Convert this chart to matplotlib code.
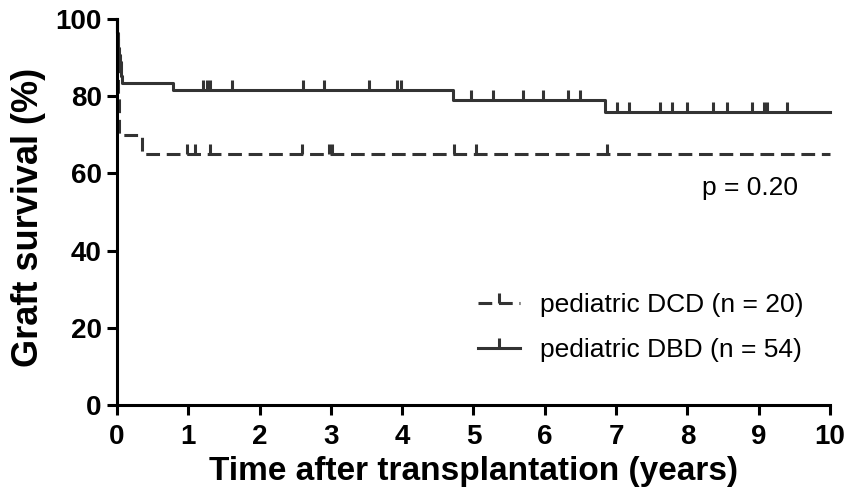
import numpy as np
import matplotlib
matplotlib.use('Agg')
import matplotlib.pyplot as plt
from matplotlib.lines import Line2D

# step curves (years, graft survival %)
dbd_times = [0, 0.003, 0.006, 0.01, 0.02, 0.03, 0.04, 0.05, 0.06, 0.07, 0.79, 4.71, 6.84]
dbd_surv = [100, 98.1, 96.3, 94.4, 92.6, 90.7, 88.9, 87.0, 85.2, 83.3, 81.5, 78.9, 76.0]
dbd_censor = [1.21, 1.26, 1.31, 1.62, 2.61, 2.90, 3.54, 3.93, 3.98, 4.97, 5.27, 5.70,
              5.97, 6.33, 6.49, 7.01, 7.18, 7.62, 7.78, 7.99, 8.36, 8.55, 8.90, 9.07,
              9.11, 9.39]

dcd_times = [0, 0.005, 0.01, 0.015, 0.02, 0.025, 0.03, 0.35]
dcd_surv = [100, 95, 90, 85, 80, 75, 70, 65]
dcd_censor = [0.98, 1.09, 1.30, 2.59, 2.97, 3.01, 4.72, 5.04, 6.87]

t_end = 10
labels = ['pediatric DCD (n = 20)', 'pediatric DBD (n = 54)']
p_text = 'p = 0.20'

col = '#333333'
lw = 2.2
font = 'Liberation Sans'


def step_at(times, surv, t):
    idx = np.searchsorted(times, t, side='right') - 1
    return np.asarray(surv)[idx]


plt.rcParams['font.family'] = [font, 'DejaVu Sans']

fig = plt.figure(figsize=(8.57, 4.95), dpi=100)
ax = fig.add_axes([0.1365, 0.1818, 0.832, 0.7798])

# DCD dashed
x = list(dcd_times) + [t_end]
y = list(dcd_surv) + [dcd_surv[-1]]
ax.step(x, y, where='post', color=col, lw=lw, dashes=(4.5, 2.2), clip_on=False)
ax.plot(dcd_censor, step_at(dcd_times, dcd_surv, dcd_censor), ls='none',
        marker=2, ms=7, mew=lw, color=col, clip_on=False)

# DBD solid
x = list(dbd_times) + [t_end]
y = list(dbd_surv) + [dbd_surv[-1]]
ax.step(x, y, where='post', color=col, lw=lw, clip_on=False)
ax.plot(dbd_censor, step_at(dbd_times, dbd_surv, dbd_censor), ls='none',
        marker=2, ms=7, mew=lw, color=col, clip_on=False)

ax.set_xlim(0, 10)
ax.set_ylim(0, 100)
ax.set_xticks(range(0, 11))
ax.set_yticks(range(0, 101, 20))
for s in ['top', 'right']:
    ax.spines[s].set_visible(False)
for s in ['left', 'bottom']:
    ax.spines[s].set_linewidth(lw)
ax.tick_params(direction='out', length=7, width=lw, color='black', labelsize=20)
ax.tick_params(axis='x', pad=7)
ax.tick_params(axis='y', pad=4)
for lab in ax.get_xticklabels() + ax.get_yticklabels():
    lab.set_fontweight('bold')

ax.set_xlabel('Time after transplantation (years)', weight='bold', size=24, labelpad=4)
ax.set_ylabel('Graft survival (%)', weight='bold', size=26)
ax.yaxis.set_label_coords(-0.1, 0.485)

ax.text(8.2, 56.2, p_text, size=19, va='center', ha='left')

handles = [
    Line2D([], [], color=col, lw=lw, dashes=(4.5, 2.2), marker=2, ms=7, mew=lw),
    Line2D([], [], color=col, lw=lw, marker=2, ms=7, mew=lw),
]
ax.legend(handles, labels, loc='upper left', bbox_to_anchor=(0.506, 0.29), frameon=False,
          prop=dict(size=19), handlelength=1.6, handletextpad=0.75, labelspacing=0.8,
          borderpad=0, borderaxespad=0, numpoints=1)

fig.savefig('out.png', dpi=100)
